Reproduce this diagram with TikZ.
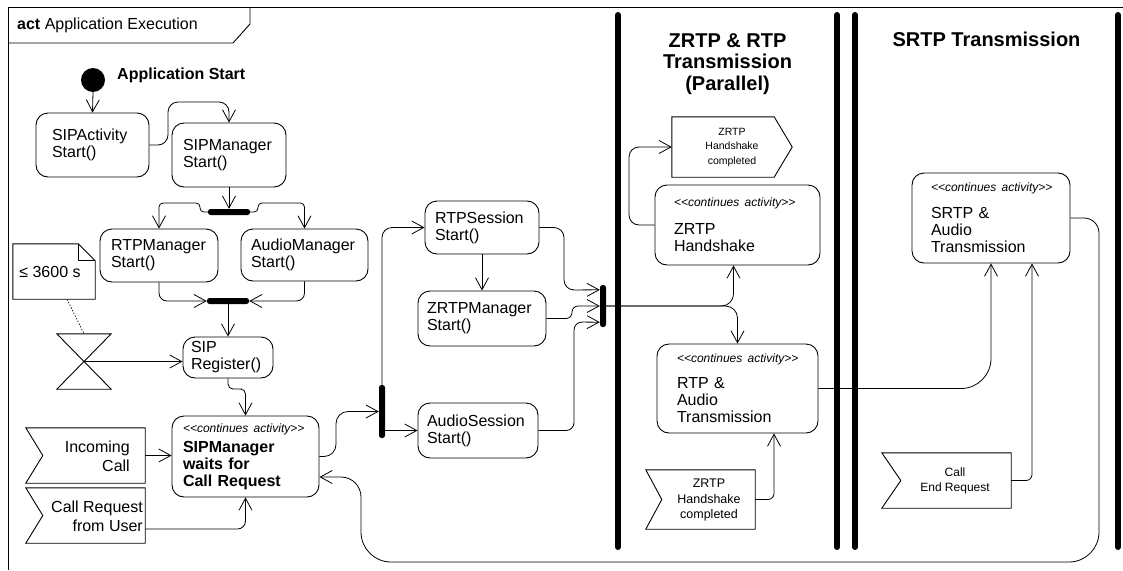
\documentclass[tikz,border=0pt]{standalone}
\usepackage{fontspec}
\setmainfont{Liberation Sans}
\usetikzlibrary{arrows.meta,calc}
\newcommand\contact{\mbox{\fontsize{12}{13}\selectfont\itshape <{}<continues activity>{}>}}
\begin{document}
\begin{tikzpicture}[x=1pt,y=-1pt,
  every node/.style={font=\fontsize{16}{17}\selectfont},
  lw/.style={line width=0.9pt},
  act/.style={draw, line width=0.9pt, rounded corners=12pt, align=left, inner ysep=0pt},
  bar/.style={fill=black, rounded corners=2.5pt, inner sep=0pt},
  flow/.style={line width=0.8pt, -{Straight Barb[length=12pt,width=13pt]}, rounded corners=#1},
  flow/.default=8pt,
  sig/.style={inner sep=0pt},
  lane/.style={line width=6pt, line cap=round},
  hdr/.style={align=center, font=\bfseries\fontsize{20}{21.5}\selectfont},
]
\useasboundingbox (0,0) rectangle (1123,570);
% frame
\draw[lw] (8,570) -- (8,7) -- (1123,7);
\draw[lw] (8,43) -- (233,43) -- (250,24) -- (250,7);
\node[anchor=west, inner sep=0pt] (title) at (17,25) {\textbf{act} Application Execution};

% lanes
\draw[lane] (618,15) -- (618,547);
\draw[lane] (837,15) -- (837,547);
\draw[lane] (855,15) -- (855,547);
\draw[lane] (1118,15) -- (1118,547);
\node[hdr] (hdr1) at (727.5,64) {ZRTP \& RTP\\Transmission\\(Parallel)};
\node[hdr] (hdr2) at (986.5,39) {SRTP Transmission};

% start
\node[circle, fill, inner sep=0pt, minimum size=24pt] (init) at (93,80) {};
\node[anchor=west, inner sep=0pt, font=\bfseries\fontsize{16}{17}\selectfont] (startlbl) at (117,75) {Application Start};

% activities
\node[act, text width=81pt, inner xsep=16pt, minimum height=64pt] (sipa) at (92.5,145) {SIPActivity\\Start()};
\node[act, text width=92pt, inner xsep=11pt, minimum height=64pt] (sipm) at (229,155) {SIPManager\\Start()};
\node[bar, minimum width=42pt, minimum height=6pt] (fork1) at (229,212) {};
\node[act, text width=96pt, inner xsep=11pt, minimum height=53pt] (rtpm) at (159,255.5) {RTPManager\\Start()};
\node[act, text width=107pt, inner xsep=10pt, minimum height=52pt] (audm) at (304.5,255) {AudioManager\\Start()};
\node[bar, minimum width=42pt, minimum height=6pt] (join1) at (228,301) {};
\node[act, text width=74pt, inner xsep=8pt, minimum height=41pt] (sipr) at (228,357.5) {SIP\\Register()};

% note
\node[inner sep=0pt, minimum width=82pt, minimum height=55pt] (note) at (54,271.5) {};
\draw[lw] (note.north west) -- ($(note.north east)+(-17,0)$) -- ($(note.north east)+(0,17)$) -- (note.south east) -- (note.south west) -- cycle;
\draw[lw] ($(note.north east)+(-17,0)$) |- ($(note.north east)+(0,17)$);
\node[inner sep=0pt] (notetxt) at (50,272) {≤ 3600 s};

% hourglass
\node[inner sep=0pt, minimum width=54pt, minimum height=55pt] (hg) at (84,361.5) {};
\draw[lw] (hg.north west) -- (hg.north east) -- (hg.south west) -- (hg.south east) -- cycle;
\draw[line width=0.6pt, dash pattern=on 1.5pt off 1.5pt] ($(note.south)+(13,0)$) -- (hg.north);

% waits
\node[act, text width=125pt, inner xsep=11pt, minimum height=81pt] (waits) at (245.5,456.5) {\contact\\[3pt]\textbf{SIPManager}\\\textbf{waits for}\\\textbf{Call Request}};

% signals left
\node[sig, minimum width=119pt, minimum height=55pt] (inc) at (85.5,455.5) {};
\draw[lw] (inc.north west) -- (inc.north east) -- (inc.south east) -- (inc.south west) -- ($(inc.west)+(17,0)$) -- cycle;
\node[anchor=east, align=right, inner sep=0pt, font=\fontsize{16}{19}\selectfont] (inctxt) at (130,456) {Incoming\\Call};
\node[sig, minimum width=119pt, minimum height=55pt] (creq) at (85.5,515.5) {};
\draw[lw] (creq.north west) -- (creq.north east) -- (creq.south east) -- (creq.south west) -- ($(creq.west)+(17,0)$) -- cycle;
\node[anchor=east, align=right, inner sep=0pt, font=\fontsize{16}{19}\selectfont] (creqtxt) at (143,516) {Call Request\\from User};

% sessions
\node[bar, minimum width=6pt, minimum height=53pt] (fork2) at (382,411.5) {};
\node[act, text width=94pt, inner xsep=10pt, minimum height=53pt] (rtps) at (482,227.5) {RTPSession\\Start()};
\node[act, text width=110pt, inner xsep=9pt, minimum height=55pt] (zrtpm) at (482,318.5) {ZRTPManager\\Start()};
\node[act, text width=102pt, inner xsep=9pt, minimum height=55pt] (auds) at (478,430.5) {AudioSession\\Start()};
\node[bar, minimum width=6pt, minimum height=42pt] (join2) at (603,306) {};

% ZRTP lane
\node[sig, minimum width=120pt, minimum height=60pt] (zsend) at (732,147) {};
\draw[lw] (zsend.north west) -- ($(zsend.north east)+(-18,0)$) -- (zsend.east) -- ($(zsend.south east)+(-18,0)$) -- (zsend.south west) -- cycle;
\node[align=center, inner sep=0pt, font=\fontsize{10.5}{14.5}\selectfont] (zsendtxt) at (732,147) {ZRTP\\Handshake\\completed};
\node[act, text width=127pt, inner xsep=19pt, minimum height=80pt] (zh) at (737.5,225) {\contact\\[11pt]ZRTP\\Handshake};
\node[act, text width=121pt, inner xsep=20pt, minimum height=89pt] (rtpa) at (737.5,388.5) {\contact\\[9pt]RTP \&\\Audio\\Transmission};
\node[sig, minimum width=109pt, minimum height=59pt] (zrecv) at (700.5,499.5) {};
\draw[lw] (zrecv.north west) -- (zrecv.north east) -- (zrecv.south east) -- (zrecv.south west) -- ($(zrecv.west)+(16,0)$) -- cycle;
\node[align=center, inner sep=0pt, font=\fontsize{12.5}{15.5}\selectfont] (zrecvtxt) at (709,500) {ZRTP\\Handshake\\completed};

% SRTP lane
\node[act, text width=120pt, inner xsep=19pt, minimum height=90pt] (srtp) at (991,218) {\contact\\[10pt]SRTP \&\\Audio\\Transmission};
\node[sig, minimum width=129pt, minimum height=55pt] (cend) at (946.5,480.5) {};
\draw[lw] (cend.north west) -- (cend.north east) -- (cend.south east) -- (cend.south west) -- ($(cend.west)+(19,0)$) -- cycle;
\node[align=center, inner sep=0pt, font=\fontsize{12}{15}\selectfont] (cendtxt) at (955,481) {Call\\End Request};

% connectors
\draw[flow] (init.south) -- (sipa.north);
\draw[flow=10pt] (sipa.east) -| (168,102) -| (sipm.north);
\draw[flow] (sipm.south) -- (fork1.north);
\draw[flow=4pt] (fork1.west) -| (200,203) -| (rtpm.north);
\draw[flow=4pt] (fork1.east) -| (258,203) -| (audm.north);
\draw[flow=8pt] (rtpm.south) |- (join1.west);
\draw[flow=8pt] (audm.south) |- (join1.east);
\draw[flow] (join1.south) -- (sipr.north);
\draw[flow=5pt] (sipr.south) |- (237,389) -| (waits.north);
\draw[flow] (hg.center) -- (hg.center -| sipr.west);
\draw[flow] (inc.east) -- (inc.east -| waits.west);
\draw[flow=8pt] ($(creq.east)+(0,13.5)$) -| (waits.south);
\draw[flow=12pt] (waits.east) -| (336,411.5) -- (fork2.west);
\draw[flow] (fork2.east |- auds.west) -- (auds.west);
\draw[flow=10pt] (fork2.north) |- (rtps.west);
\draw[flow] (rtps.south) -- (zrtpm.north);
\draw[flow=10pt] (rtps.east) -| (564,290) -- ($(join2.north west)+(0,5)$);
\draw[flow=6pt] (zrtpm.east) -| (572,306) -- (join2.west);
\draw[flow=8pt] (auds.east) -| (574,322) -- ($(join2.south west)+(0,-5)$);
\draw[flow=12pt] (join2.east) -| ($(zh.south)+(-4,0)$);
\draw[flow=12pt] (join2.east) -| (rtpa.north);
\draw[flow=10pt] (zh.west) -| (629,147) -- (zsend.west);
\draw[flow=6pt] (zrecv.east) -| ($(rtpa.south)+(36.5,0)$);
\draw[flow=30pt] (rtpa.east) -| (srtp.south);
\draw[flow=6pt] (cend.east) -| ($(srtp.south)+(41,0)$);
\draw[flow=15pt] (srtp.east) -| (1099,400) [rounded corners=30pt] |- (361,562) [rounded corners=20pt] |- ($(waits.east)+(0,20.5)$);
\end{tikzpicture}
\end{document}
